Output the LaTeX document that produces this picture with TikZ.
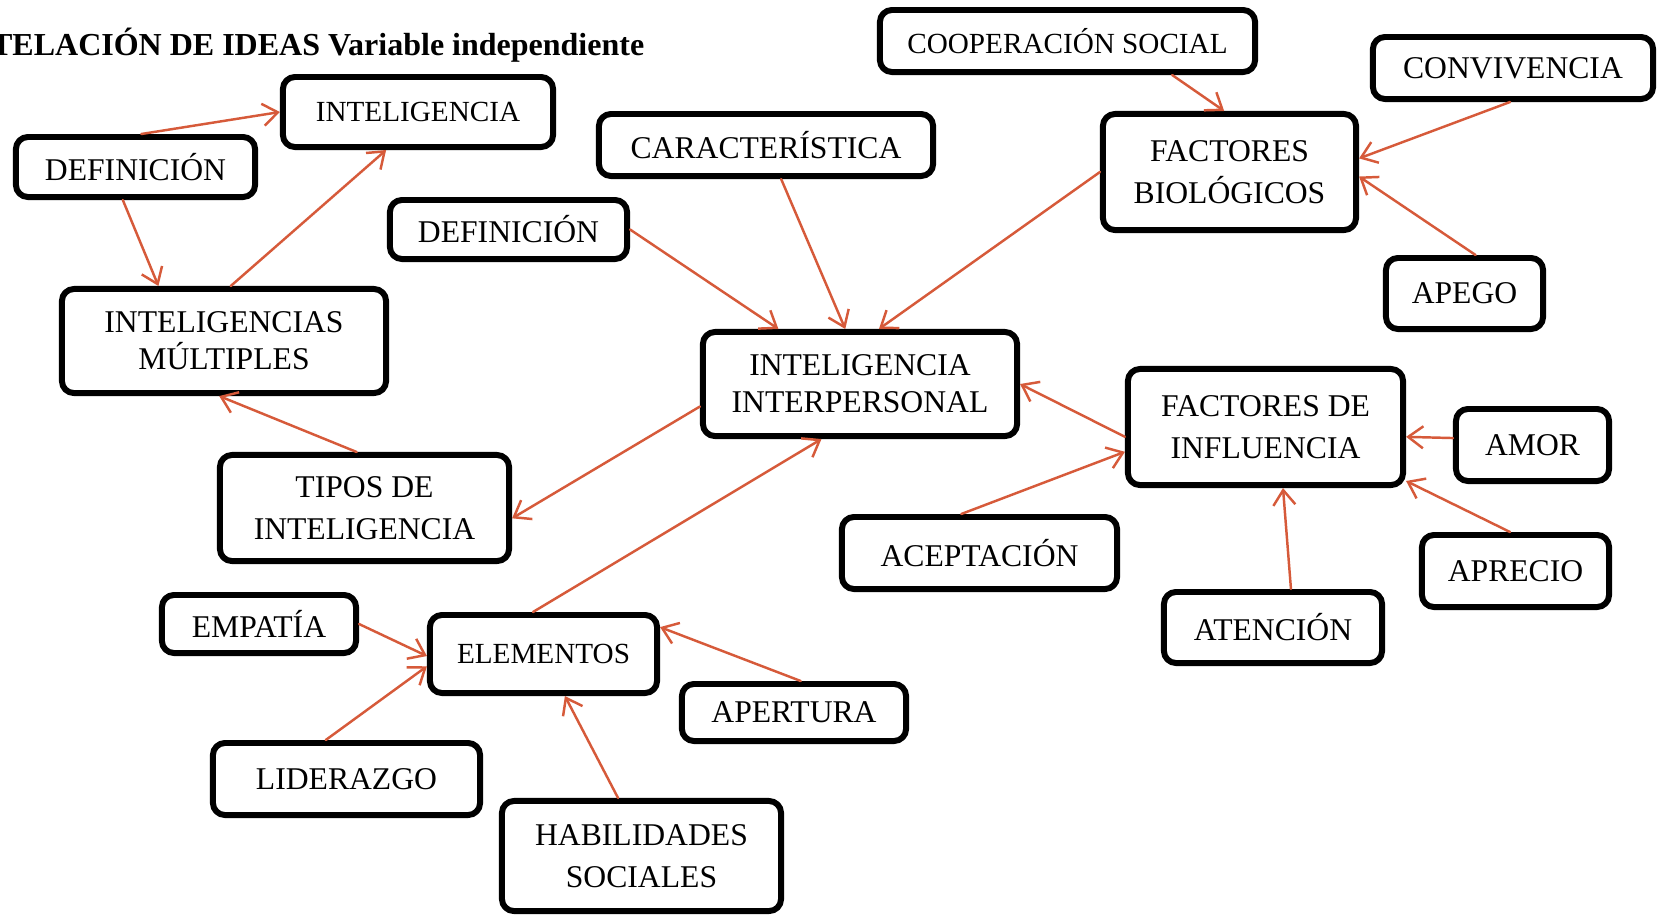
\documentclass[tikz,border=0pt]{standalone}
\usepackage{fontspec}
\setmainfont{Liberation Serif}
\usetikzlibrary{arrows.meta}
\definecolor{flechacolor}{RGB}{214,90,58}
\newcommand{\grande}{\fontsize{9}{12}\selectfont}
\newcommand{\grandeb}{\fontsize{9}{10.5}\selectfont}
\newcommand{\chica}{\fontsize{8.3}{10.5}\selectfont}
\begin{document}
\begin{tikzpicture}[x=0.01cm, y=-0.01cm, line cap=round, line join=round, font=\grande,
  >={Straight Barb[length=0.15cm, width=0.22cm]}]
	\tikzset{caja/.style={draw, line width=1.7pt, rounded corners=0.12cm, inner sep=0pt, align=center}}
	\tikzset{flecha/.style={->, draw=flechacolor, line width=0.7pt}}
	\useasboundingbox (0,0) rectangle (1663,914);
	\node[anchor=base east, inner sep=0pt, font=\bfseries\fontsize{9.1}{11}\selectfont] (titulo) at (645,55) {TELACIÓN DE IDEAS Variable independiente};
	% lado izquierdo
	\node[caja, font=\chica, minimum width=2.70cm, minimum height=0.70cm] (inteligencia) at (418,112) {INTELIGENCIA};
	\node[caja, minimum width=2.39cm, minimum height=0.60cm] (defuno) at (135.5,167) {DEFINICIÓN};
	\node[caja, font=\grandeb, minimum width=3.24cm, minimum height=1.04cm] (multiples) at (224,341) {INTELIGENCIAS\\MÚLTIPLES};
	\node[caja, minimum width=2.37cm, minimum height=0.59cm] (defdos) at (508.5,229.5) {DEFINICIÓN};
	\node[caja, minimum width=3.34cm, minimum height=0.62cm] (caracteristica) at (766,145) {CARACTERÍSTICA};
	\node[caja, minimum width=2.89cm, minimum height=1.06cm] (tipos) at (364.5,508) {TIPOS DE\\INTELIGENCIA};
	% centro
	\node[caja, font=\grandeb, minimum width=3.14cm, minimum height=1.04cm] (interpersonal) at (860,384) {INTELIGENCIA\\INTERPERSONAL};
	% factores biologicos
	\node[caja, font=\chica, minimum width=3.75cm, minimum height=0.62cm] (cooperacion) at (1067.5,41) {COOPERACIÓN SOCIAL};
	\node[caja, minimum width=2.80cm, minimum height=0.62cm] (convivencia) at (1513,68) {CONVIVENCIA};
	\node[caja, minimum width=2.53cm, minimum height=1.16cm] (biologicos) at (1229.5,172) {FACTORES\\BIOLÓGICOS};
	\node[caja, minimum width=1.57cm, minimum height=0.71cm] (apego) at (1464.5,293.5) {APEGO};
	% factores de influencia
	\node[caja, minimum width=2.75cm, minimum height=1.16cm] (influencia) at (1265.5,427) {FACTORES DE\\INFLUENCIA};
	\node[caja, minimum width=1.53cm, minimum height=0.72cm] (amor) at (1532.5,445) {AMOR};
	\node[caja, minimum width=2.75cm, minimum height=0.72cm] (aceptacion) at (979.5,553) {ACEPTACIÓN};
	\node[caja, minimum width=2.18cm, minimum height=0.71cm] (atencion) at (1273,627.5) {ATENCIÓN};
	\node[caja, minimum width=1.87cm, minimum height=0.72cm] (aprecio) at (1515.5,571) {APRECIO};
	% elementos
	\node[caja, minimum width=1.94cm, minimum height=0.58cm] (empatia) at (259,624) {EMPATÍA};
	\node[caja, font=\chica, minimum width=2.27cm, minimum height=0.78cm] (elementos) at (543.5,654) {ELEMENTOS};
	\node[caja, minimum width=2.24cm, minimum height=0.57cm] (apertura) at (794,712.5) {APERTURA};
	\node[caja, minimum width=2.67cm, minimum height=0.72cm] (liderazgo) at (346.5,779) {LIDERAZGO};
	\node[caja, minimum width=2.79cm, minimum height=1.10cm] (habilidades) at (641.5,856) {HABILIDADES\\SOCIALES};
	% flechas
	\draw[flecha] (defuno.80) -- (inteligencia.west);
	\draw[flecha] (defuno.249) -- (multiples.140);
	\draw[flecha] (multiples.83) -- (inteligencia.230);
	\draw[flecha] (tipos.98) -- (multiples.265);
	\draw[flecha] (defdos.east) -- (interpersonal.146);
	\draw[flecha] (caracteristica.294) -- (interpersonal.105);
	\draw[flecha] (biologicos.west) -- (interpersonal.71);
	\draw[flecha] (cooperacion.342) -- (biologicos.95);
	\draw[flecha] (convivencia.265) -- (biologicos.6);
	\draw[flecha] (apego.74) -- (biologicos.358);
	\draw[flecha] (influencia.184) -- (interpersonal.east);
	\draw[flecha] (interpersonal.188) -- (tipos.356);
	\draw[flecha] (elementos.104) -- (interpersonal.235);
	\draw[flecha] (aceptacion.115) -- (influencia.190);
	\draw[flecha] (amor.175) -- (influencia.356);
	\draw[flecha] (aprecio.98) -- (influencia.339);
	\draw[flecha] (atencion.65) -- (influencia.286);
	\draw[flecha] (empatia.east) -- (elementos.181);
	\draw[flecha] (liderazgo.118) -- (elementos.186);
	\draw[flecha] (habilidades.112) -- (elementos.297);
	\draw[flecha] (apertura.78) -- (elementos.13);
\end{tikzpicture}
\end{document}
